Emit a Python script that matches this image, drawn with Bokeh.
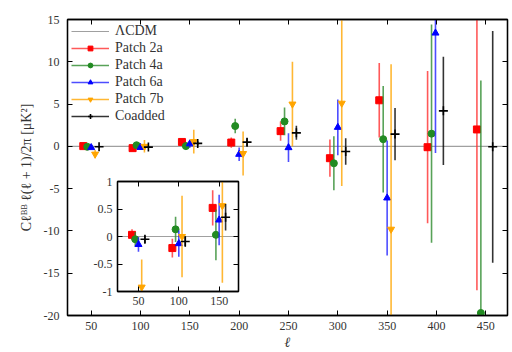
from bokeh.plotting import figure
from bokeh.models import (Range1d, LinearAxis, FixedTicker, Legend, LegendItem,
                          CustomLabelingPolicy)
from bokeh.embed import file_html
from bokeh.resources import INLINE

# ---------------- data ----------------
lcdm_ell = [0, 500]
lcdm_val = [0.0, 0.0]

p2a_ell = [42, 92, 142, 192, 242, 292, 342, 391, 441]
p2a_val = [0.03, -0.21, 0.52, 0.45, 1.8, -1.4, 5.45, -0.1, 2.0]
p2a_err = [0.1, 0.17, 0.32, 0.6, 1.15, 2.2, 4.4, 9.0, 19.0]

p4a_ell = [46, 96, 146, 196, 246, 296, 346, 395, 445]
p4a_val = [-0.05, 0.13, 0.03, 2.4, 2.95, -2.0, 0.85, 1.5, -19.7]
p4a_err = [0.13, 0.23, 0.46, 0.85, 1.65, 3.2, 6.3, 12.9, 27.5]

p6a_ell = [50, 100, 150, 200, 250, 300, 350, 399]
p6a_val = [-0.145, -0.13, 0.30, -0.94, -0.15, 2.25, -6.1, 13.4]
p6a_err = [0.13, 0.24, 0.46, 0.8, 1.7, 3.3, 6.8, 14.2]

p7b_ell = [54, 104, 154, 204, 254, 304, 354]
p7b_val = [-0.92, 0.0, 0.56, -0.85, 5.0, 5.1, -9.8]
p7b_err = [0.5, 0.74, 1.4, 2.6, 5.0, 9.8, 19.5]

coadd_ell = [58, 108, 158, 208, 258, 308, 358, 407, 457]
coadd_val = [-0.05, -0.09, 0.35, 0.5, 1.6, -0.6, 1.45, 4.2, -0.05]
coadd_err = [0.07, 0.1, 0.24, 0.45, 0.83, 1.57, 3.1, 6.4, 13.7]

main_xticks = [50, 100, 150, 200, 250, 300, 350, 400, 450]
main_yticks = [-20, -15, -10, -5, 0, 5, 10, 15]
inset_xticks = [50, 100, 150]
inset_yticks = [-1, -0.5, 0, 0.5, 1]

series = [
    ("Patch 2a", p2a_ell, p2a_val, p2a_err, "square", "#ff0000", "#ff3030", 7),
    ("Patch 4a", p4a_ell, p4a_val, p4a_err, "circle", "#228b22", "#2e8b2e", 7),
    ("Patch 6a", p6a_ell, p6a_val, p6a_err, "triangle", "#0000ff", "#2020ff", 7),
    ("Patch 7b", p7b_ell, p7b_val, p7b_err, "inverted_triangle", "#ffa500", "#ffa500", 7),
    ("Coadded", coadd_ell, coadd_val, coadd_err, "cross", "#000000", "#000000", 9),
]

FONT = "Liberation Serif"
TICKCOL = "#333333"

NO_LABELS = """
for (const i of Array.from(indices)) { indices.unset(i) }
return indices
"""


def fmt(v):
    if float(v).is_integer():
        return str(int(v))
    return str(v)


def draw(fig):
    items = []
    r = fig.line(lcdm_ell, lcdm_val, line_color="#a0a0a0", line_width=1.2)
    items.append(LegendItem(label="\u039bCDM", renderers=[r]))
    for name, ell, val, err, marker, mcol, bcol, size in series:
        lo = [v - e for v, e in zip(val, err)]
        hi = [v + e for v, e in zip(val, err)]
        rs = fig.segment(x0=ell, y0=lo, x1=ell, y1=hi, line_color=bcol,
                         line_width=1.6, line_alpha=0.8)
        lw = 1.6 if marker == "cross" else 1
        rm = fig.scatter(ell, val, marker=marker, size=size, fill_color=mcol,
                         line_color=mcol, line_width=lw)
        items.append(LegendItem(label=name, renderers=[rs, rm]))
    return items


def mirror_axis(ticks):
    return LinearAxis(ticker=FixedTicker(ticks=ticks), major_tick_in=5, major_tick_out=0,
                      minor_tick_in=0, minor_tick_out=0, major_label_standoff=0,
                      major_label_text_font_size="1px",
                      major_label_policy=CustomLabelingPolicy(code=NO_LABELS),
                      axis_line_color="black", axis_line_width=1.3)


def style_axes(fig, xticks, yticks, fsize):
    for ax in fig.xaxis + fig.yaxis:
        ax.major_tick_in = 5
        ax.major_tick_out = 0
        ax.minor_tick_in = 0
        ax.minor_tick_out = 0
        ax.axis_line_color = "black"
        ax.axis_line_width = 1.3
        ax.major_tick_line_color = "black"
        ax.major_label_text_font = FONT
        ax.major_label_text_font_size = fsize
        ax.major_label_text_color = TICKCOL
        ax.axis_label_text_font = FONT
        ax.axis_label_text_font_style = "normal"
        ax.axis_label_text_color = TICKCOL
    fig.xaxis.ticker = FixedTicker(ticks=xticks)
    fig.yaxis.ticker = FixedTicker(ticks=yticks)
    fig.xaxis.major_label_overrides = {t: fmt(t) for t in xticks}
    fig.yaxis.major_label_overrides = {t: fmt(t) for t in yticks}
    fig.add_layout(mirror_axis(xticks), "above")
    fig.add_layout(mirror_axis(yticks), "right")


# ---------------- main figure ----------------
p = figure(width=512, height=352, output_backend="svg", toolbar_location=None,
           x_range=Range1d(26, 472), y_range=Range1d(-20, 15),
           min_border_left=67, min_border_right=1, min_border_top=19, min_border_bottom=35)
p.xgrid.visible = False
p.ygrid.visible = False
p.outline_line_color = "black"
p.outline_line_width = 1.3
items = draw(p)
style_axes(p, main_xticks, main_yticks, "12px")
xb = p.below[0]
yl = p.left[0]
xb.axis_label = "\u2113"
xb.axis_label_text_font_style = "italic"
xb.axis_label_text_font_size = "14px"
xb.axis_label_standoff = 2
xb.major_label_standoff = 6
yl.axis_label = "C\u2113\u1d2e\u1d2e \u2113(\u2113 + 1)/2\u03c0 [\u03bcK\u00b2]"
yl.axis_label_text_font_size = "14px"
yl.axis_label_standoff = 7
yl.major_label_standoff = 8

legend = Legend(items=items, location="top_left", border_line_color=None,
                background_fill_alpha=0, label_text_font=FONT, label_text_font_size="14px",
                label_text_color="#333333", label_height=12, glyph_height=12, glyph_width=38,
                spacing=1, padding=4, margin=4, label_standoff=6)
p.add_layout(legend)

# ---------------- inset (same canvas size, overlaid, frame placed by borders) ----------------
ins = figure(width=512, height=352, output_backend="svg", toolbar_location=None,
             x_range=Range1d(24, 174), y_range=Range1d(-1, 1),
             min_border_left=117, min_border_right=274, min_border_top=181, min_border_bottom=61)
ins.xgrid.visible = False
ins.ygrid.visible = False
ins.outline_line_color = "black"
ins.outline_line_width = 1.3
ins.background_fill_color = "white"
ins.background_fill_alpha = 1
ins.border_fill_alpha = 0
draw(ins)
style_axes(ins, inset_xticks, inset_yticks, "12px")
ins.below[0].major_label_standoff = 5
ins.left[0].major_label_standoff = 5
ins.styles = {"position": "absolute", "top": "0px", "left": "0px"}

open("out.html", "w").write(file_html([p, ins], INLINE))
